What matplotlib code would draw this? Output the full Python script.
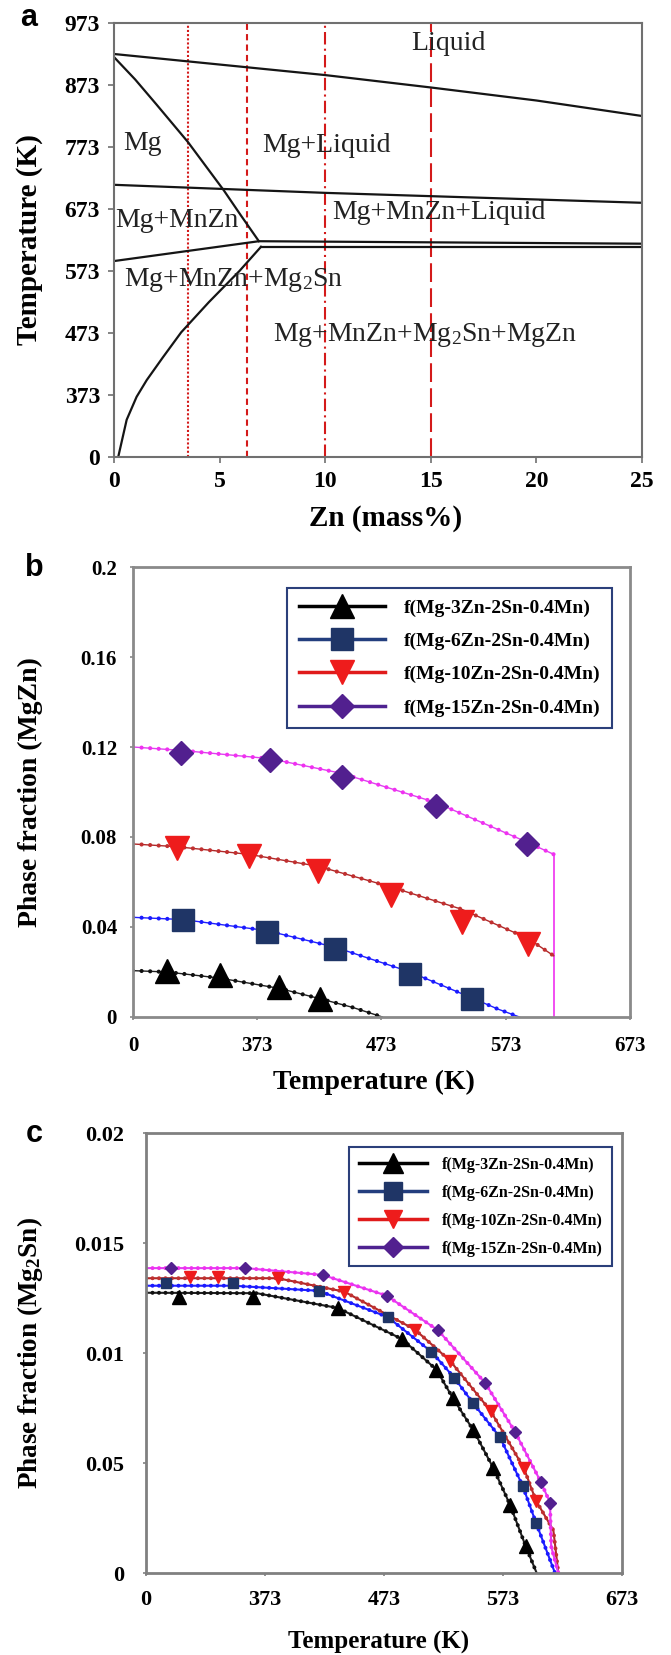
import matplotlib
matplotlib.use("Agg")
import matplotlib.pyplot as plt
from matplotlib.lines import Line2D

plt.rcParams['font.family'] = ['Liberation Serif', 'DejaVu Serif']
plt.rcParams['mathtext.fontset'] = 'custom'
plt.rcParams['mathtext.rm'] = 'Liberation Serif'
plt.rcParams['mathtext.bf'] = 'Liberation Serif:bold'

# ---------------- panel a : phase boundaries (Zn mass%, temperature K) ----------------
# the temperature axis is labelled 0, 373, 473 ... so the bottom "0" sits at 273 here
a_yticks = [273, 373, 473, 573, 673, 773, 873, 973]
a_yticklabels = ['0', '373', '473', '573', '673', '773', '873', '973']
a_xticks = [0, 5, 10, 15, 20, 25]

zn_liquidus = [0, 5, 10, 15, 20, 25]
t_liquidus = [923, 906, 889, 869, 848, 823]
zn_solidus = [0, 1, 2, 3.5, 5.2, 6.0, 6.86]
t_solidus = [918, 882, 842, 781, 703, 663, 621]
zn_mnzn = [0, 10, 25]
t_mnzn = [712, 699, 683]
zn_eut_up = [0, 6.86, 25]
t_eut_up = [589, 621, 617]
zn_eut_low = [6.96, 25]
t_eut_low = [612, 612]
zn_mg2sn = [0.2, 0.6, 1.07, 1.55, 2.3, 3.18, 4.5, 5.94, 6.96]
t_mg2sn = [273, 333, 370, 397, 433, 474, 523, 573, 612]

alloy_zn = [3.5, 6.3, 10, 15]
alloy_styles = [(0, (1, 1)), (0, (3, 2)), (0, (6, 2, 1, 2)), (0, (9, 3))]

region_names = ['Liquid', 'Mg', 'Mg+Liquid', 'Mg+MnZn', 'Mg+MnZn+Liquid',
                r'Mg+MnZn+Mg$\mathregular{_2}$Sn',
                r'Mg+MnZn+Mg$\mathregular{_2}$Sn+MgZn']
region_zn = [14.08, 0.45, 7.0, 0.04, 10.31, 0.45, 7.53]
region_t = [940, 779, 776, 655, 668, 558, 469]

# ---------------- panel b : MgZn phase fraction ----------------
t_ticks = [273, 373, 473, 573, 673]
t_ticklabels = ['0', '373', '473', '573', '673']
b_yticks = [0, 0.04, 0.08, 0.12, 0.16, 0.2]
b_yticklabels = ['0', '0.04', '0.08', '0.12', '0.16', '0.2']

alloys = ['f(Mg-3Zn-2Sn-0.4Mn)', 'f(Mg-6Zn-2Sn-0.4Mn)',
          'f(Mg-10Zn-2Sn-0.4Mn)', 'f(Mg-15Zn-2Sn-0.4Mn)']

b_t3 = [273, 300.6, 342.7, 390.9, 423.7, 449.6, 473.7]
b_f3 = [0.0206, 0.0200, 0.0173, 0.0127, 0.0081, 0.0043, 0.0]
b_t6 = [273, 313.3, 380.6, 435.8, 496.1, 546.1, 566.8, 584]
b_f6 = [0.0443, 0.0433, 0.0384, 0.0310, 0.0200, 0.0084, 0.0035, 0.0]
b_t10 = [273, 308.2, 366.1, 422, 480.6, 537.5, 590.9, 611.6]
b_f10 = [0.0769, 0.0757, 0.0723, 0.0670, 0.0578, 0.0479, 0.0349, 0.0272]
b_t15 = [273, 311.6, 383.3, 440.9, 516.8, 590.2, 611.6]
b_f15 = [0.1200, 0.1185, 0.1148, 0.1083, 0.0953, 0.0777, 0.0723]
b_drop_t = 611.6

bm_t3 = [300.6, 342.7, 390.2, 423.7]
bm_f3 = [0.0203, 0.0188, 0.0135, 0.0078]
bm_t6 = [313.3, 380.6, 435.8, 496.1, 546.1]
bm_f6 = [0.0430, 0.0376, 0.0303, 0.0191, 0.0078]
bm_t10 = [308.2, 366.1, 422, 480.6, 537.5, 590.9]
bm_f10 = [0.0751, 0.0716, 0.0651, 0.0543, 0.0420, 0.0323]
bm_t15 = [311.6, 383.3, 440.9, 516.8, 590.2]
bm_f15 = [0.1174, 0.1144, 0.1067, 0.0940, 0.0770]

# ---------------- panel c : Mg2Sn phase fraction ----------------
c_yticks = [0, 0.005, 0.01, 0.015, 0.02]
c_yticklabels = ['0', '0.05', '0.01', '0.015', '0.02']

c_t3 = [273, 366, 434, 488, 517, 531, 548, 565, 579, 592, 601.3]
c_f3 = [0.01274, 0.01272, 0.01205, 0.01064, 0.00925, 0.00794, 0.0065, 0.00476, 0.00309, 0.00123, 0.0]
c_t6 = [273, 346, 418, 476, 513, 532, 548, 570.5, 589.6, 600.7, 616.7]
c_f6 = [0.01306, 0.01306, 0.01283, 0.01164, 0.01005, 0.00888, 0.00771, 0.00617, 0.00395, 0.00229, 0.0]
c_t10 = [273, 383.7, 439.6, 498.9, 528.5, 562.7, 590.6, 600.7, 615.3, 619.5]
c_f10 = [0.0134, 0.0134, 0.01279, 0.01107, 0.00965, 0.00736, 0.00476, 0.00329, 0.00195, 0.0]
c_t15 = [273, 356.4, 421.5, 475.1, 518.3, 557.9, 583.1, 604.7, 612.5, 613.5, 619.5]
c_f15 = [0.01386, 0.01386, 0.01355, 0.01261, 0.01104, 0.00865, 0.00642, 0.00415, 0.0032, 0.0012, 0.0]

cm_t3 = [301, 362.7, 434.1, 488, 517, 531.2, 548, 564.9, 578.9, 592.3]
cm_f3 = [0.01256, 0.01256, 0.01205, 0.01064, 0.00925, 0.00794, 0.0065, 0.00476, 0.00309, 0.00123]
cm_t6 = [289.8, 346.4, 418.1, 476, 512.9, 531.8, 548, 570.5, 589.6, 600.7]
cm_f6 = [0.01317, 0.01317, 0.01283, 0.01164, 0.01005, 0.00888, 0.00771, 0.00617, 0.00395, 0.00229]
cm_t10 = [310.2, 333.3, 383.7, 439.6, 498.9, 528.5, 562.7, 590.6, 600.7]
cm_f10 = [0.01347, 0.01347, 0.0134, 0.01279, 0.01107, 0.00965, 0.00736, 0.00476, 0.00329]
cm_t15 = [294, 356.4, 421.5, 475.1, 518.3, 557.9, 583.1, 604.7, 612.5]
cm_f15 = [0.01386, 0.01386, 0.01355, 0.01261, 0.01104, 0.00865, 0.00642, 0.00415, 0.0032]

# styles per alloy: thin line colour, dot colour, marker, marker colour, legend line colour
line_cols = ['#202020', '#2020ff', '#b02828', '#e040f0']
dot_cols = ['#101010', '#1a1aff', '#c03030', '#f030f0']
markers = ['^', 's', 'v', 'D']
mark_cols = ['#000000', '#1f3566', '#ee1c1c', '#52208f']
leg_cols = ['#000000', '#233e7e', '#e01b1b', '#4e2290']


def dotted(ax, x, y, i, lw_dot, gap, lw_line):
    ax.plot(x, y, color=line_cols[i], lw=lw_line, zorder=2)
    ax.plot(x, y, color=dot_cols[i], lw=lw_dot, linestyle=(0, (0.01, gap)),
            dash_capstyle='round', zorder=2)


def style_axes(ax, spine_c, spine_w, tsize, xpad, ypad, tlen):
    for s in ax.spines.values():
        s.set_color(spine_c)
        s.set_linewidth(spine_w)
    ax.tick_params(direction='out', length=tlen, width=1.2, color=spine_c,
                   labelsize=tsize)
    ax.tick_params(axis='x', pad=xpad)
    ax.tick_params(axis='y', pad=ypad)
    for lab in ax.get_xticklabels() + ax.get_yticklabels():
        lab.set_fontweight('bold')


fig = plt.figure(figsize=(6.71, 16.55), dpi=100)

# ---------------- panel a ----------------
ax = fig.add_axes([0.1699, 0.7239, 0.7869, 0.2622])
ax.set_xlim(0, 25)
ax.set_ylim(273, 973)
for zn, ls in zip(alloy_zn, alloy_styles):
    ax.axvline(zn, color='#d41a1a', lw=1.5, linestyle=ls, zorder=1)
for xs, ys in [(zn_liquidus, t_liquidus), (zn_solidus, t_solidus), (zn_mnzn, t_mnzn),
               (zn_eut_up, t_eut_up), (zn_eut_low, t_eut_low), (zn_mg2sn, t_mg2sn)]:
    ax.plot(xs, ys, color='#151515', lw=1.6, zorder=2)
for name, zx, ty in zip(region_names, region_zn, region_t):
    ax.text(zx, ty, name, fontsize=20, color='#222222', ha='left', va='center', zorder=3)
ax.set_xticks(a_xticks)
ax.set_yticks(a_yticks)
ax.set_yticklabels(a_yticklabels)
style_axes(ax, '#707070', 1.5, 17, 6, 6, 4)
ax.set_xlabel('Zn (mass%)', fontsize=21, fontweight='bold')
ax.set_ylabel('Temperature (K)', fontsize=21, fontweight='bold')
ax.xaxis.set_label_coords(0.515, -0.111)
ax.yaxis.set_label_coords(-0.134, 0.5)

# ---------------- panel b ----------------
ax = fig.add_axes([0.1982, 0.3855, 0.7407, 0.2719])
ax.set_xlim(273, 673)
ax.set_ylim(0, 0.2)
b_lines = [(b_t3, b_f3), (b_t6, b_f6), (b_t10, b_f10), (b_t15, b_f15)]
b_marks = [(bm_t3, bm_f3), (bm_t6, bm_f6), (bm_t10, bm_f10), (bm_t15, bm_f15)]
b_msize = [17, 16, 17, 12.5]
ax.vlines(b_drop_t, 0, b_f15[-1], color='#f040f0', lw=1.3, zorder=2)
for i in range(4):
    dotted(ax, b_lines[i][0], b_lines[i][1], i, 3.0, 2.05, 1.0)
    ax.plot(b_marks[i][0], b_marks[i][1], linestyle='none', marker=markers[i],
            ms=b_msize[i], color=mark_cols[i], zorder=3, clip_on=False)
ax.set_xticks(t_ticks)
ax.set_xticklabels(t_ticklabels)
ax.set_yticks(b_yticks)
ax.set_yticklabels(b_yticklabels)
style_axes(ax, '#8a8a8a', 2.0, 15, 11, 9, 2.5)
ax.set_xlabel('Temperature (K)', fontsize=20, fontweight='bold')
ax.set_ylabel('Phase fraction (MgZn)', fontsize=20, fontweight='bold')
ax.xaxis.set_label_coords(0.485, -0.117)
ax.yaxis.set_label_coords(-0.181, 0.5)
handles = [Line2D([], [], color=leg_cols[i], lw=2.5, marker=markers[i], ms=b_msize[i],
                  markerfacecolor=mark_cols[i], markeredgecolor=mark_cols[i])
           for i in range(4)]
leg = ax.legend(handles, alloys, loc='upper right', bbox_to_anchor=(0.984, 0.976),
                fancybox=False, framealpha=1, edgecolor='#2b3f7a', handlelength=4.4,
                labelspacing=0.8, borderpad=0.6, handletextpad=1.0,
                prop={'weight': 'bold', 'size': 14})
leg.get_frame().set_linewidth(1.5)

# ---------------- panel c ----------------
ax = fig.add_axes([0.2176, 0.0495, 0.7094, 0.2659])
ax.set_xlim(273, 673)
ax.set_ylim(0, 0.02)
c_lines = [(c_t3, c_f3), (c_t6, c_f6), (c_t10, c_f10), (c_t15, c_f15)]
c_marks = [(cm_t3, cm_f3), (cm_t6, cm_f6), (cm_t10, cm_f10), (cm_t15, cm_f15)]
c_msize = [9.5, 7.5, 8, 6]
for i in range(4):
    dotted(ax, c_lines[i][0], c_lines[i][1], i, 2.9, 1.6, 1.5)
    ax.plot(c_marks[i][0], c_marks[i][1], linestyle='none', marker=markers[i],
            ms=c_msize[i], color=mark_cols[i], zorder=3)
ax.set_xticks(t_ticks)
ax.set_xticklabels(t_ticklabels)
ax.set_yticks(c_yticks)
ax.set_yticklabels(c_yticklabels)
style_axes(ax, '#808080', 2.0, 16, 10, 13, 2.5)
ax.set_xlabel('Temperature (K)', fontsize=18, fontweight='bold')
ax.set_ylabel(r'Phase fraction (Mg$\mathregular{_2}$Sn)', fontsize=19.5, fontweight='bold')
ax.xaxis.set_label_coords(0.489, -0.132)
ax.yaxis.set_label_coords(-0.212, 0.5)
c_leg_ms = [14, 13, 13, 10]
handles = [Line2D([], [], color=leg_cols[i], lw=2.5, marker=markers[i], ms=c_leg_ms[i],
                  markerfacecolor=mark_cols[i], markeredgecolor=mark_cols[i])
           for i in range(4)]
leg = ax.legend(handles, alloys, loc='upper right', bbox_to_anchor=(0.996, 0.986),
                fancybox=False, framealpha=1, edgecolor='#2b3f7a', handlelength=4.3,
                labelspacing=0.75, borderpad=0.6, handletextpad=0.9,
                prop={'weight': 'bold', 'size': 11.5})
leg.get_frame().set_linewidth(1.5)

# panel letters
for letter, px, py in [('a', 0.043, 0.989), ('b', 0.051, 0.657), ('c', 0.051, 0.315)]:
    fig.text(px, py, letter, fontsize=22, fontweight='bold', family='Liberation Sans',
             ha='center', va='center')

fig.savefig('out.png', dpi=100)
